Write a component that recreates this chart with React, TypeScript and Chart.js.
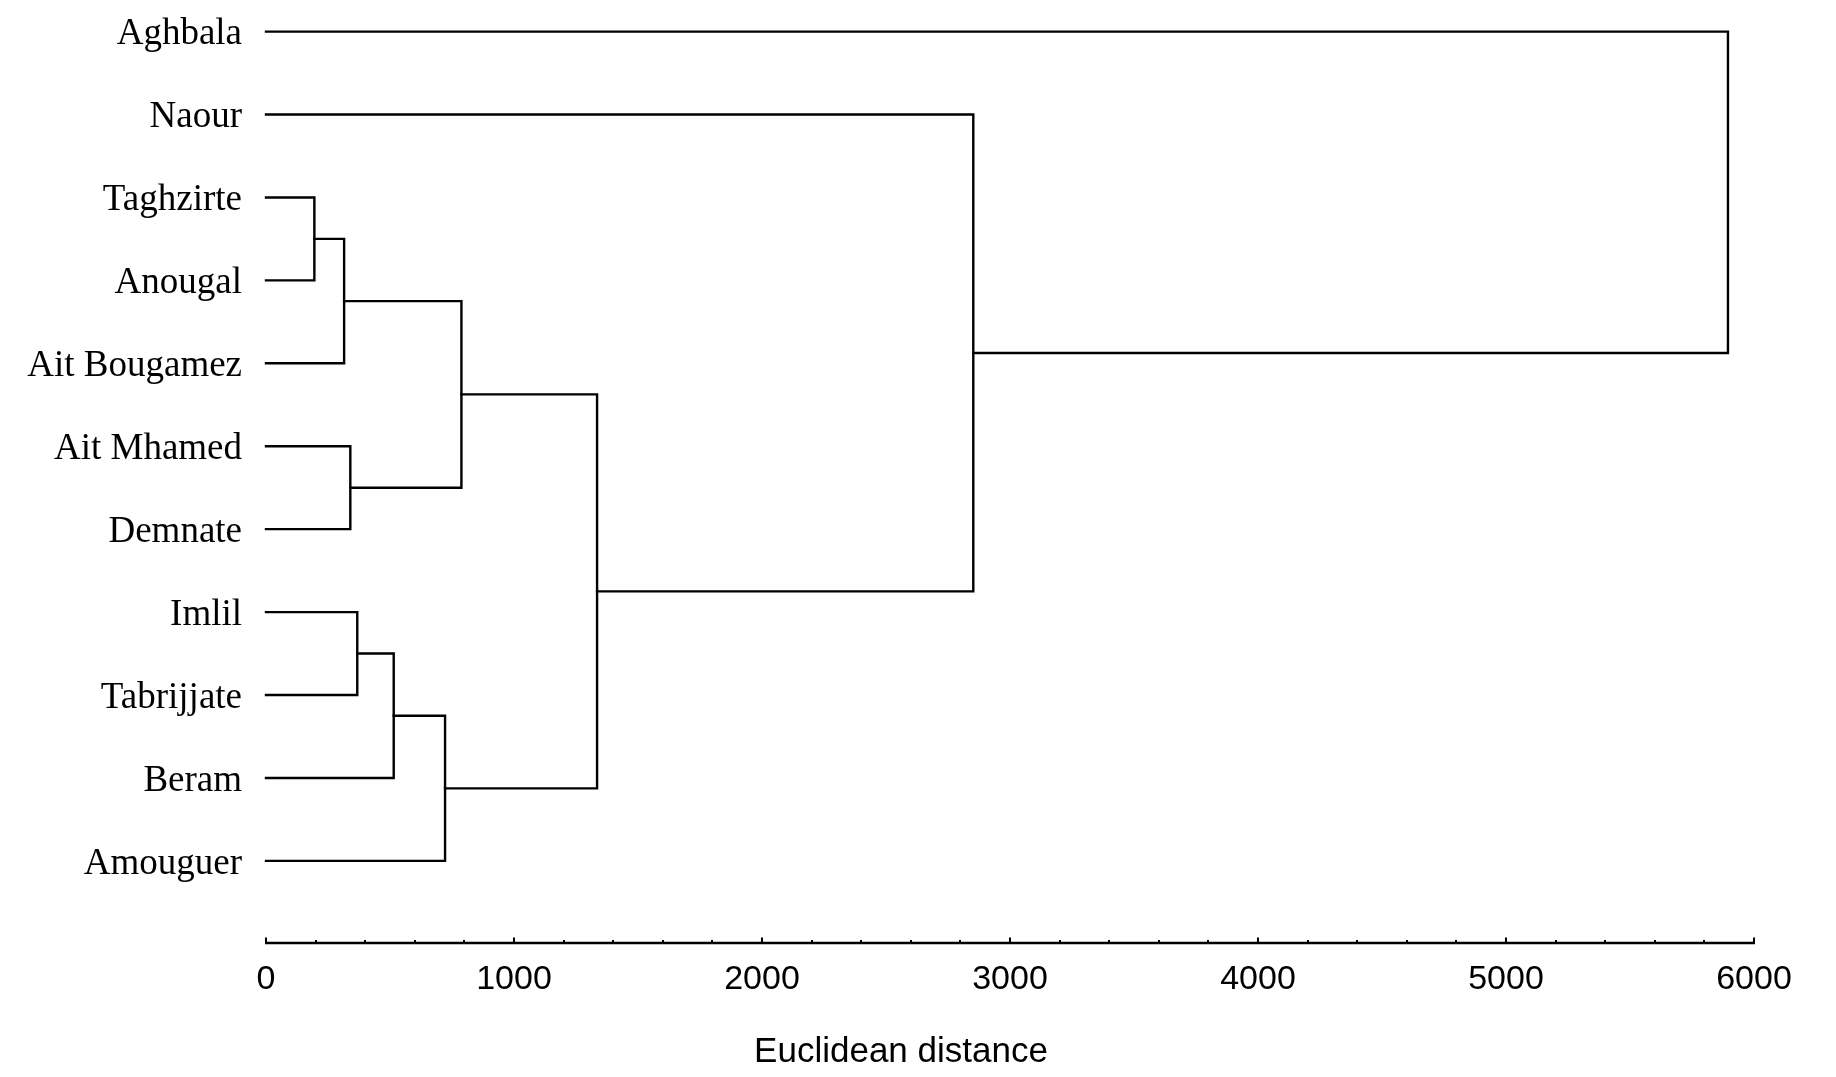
import React, { useEffect, useRef } from 'react';
import { Chart, registerables } from 'chart.js';

Chart.register(...registerables);

// Leaves (top to bottom)
const leafLabels = [
  'Aghbala',
  'Naour',
  'Taghzirte',
  'Anougal',
  'Ait Bougamez',
  'Ait Mhamed',
  'Demnate',
  'Imlil',
  'Tabrijjate',
  'Beram',
  'Amouguer',
];

// Linkage: cluster ids 0..10 are leaves, merge k creates cluster 11 + k
const mergeLeft = [2, 11, 5, 7, 14, 15, 12, 17, 1, 0];
const mergeRight = [3, 4, 6, 8, 9, 10, 13, 16, 18, 19];
const mergeHeight = [195, 315, 340, 368, 515, 722, 788, 1335, 2852, 5895];

const xTickValues = [0, 1000, 2000, 3000, 4000, 5000, 6000];
const xMinorStep = 200;

const SANS = '"Liberation Sans Narrow", "Arial Narrow", "Liberation Sans", Arial, sans-serif';
const SERIF = '"Liberation Serif", "Times New Roman", serif';

function buildDatasets() {
  const ys: number[] = leafLabels.map((_, i) => i);
  const hs: number[] = leafLabels.map(() => 0);
  const datasets: any[] = [];
  mergeHeight.forEach((h, k) => {
    const l = mergeLeft[k];
    const r = mergeRight[k];
    const yl = ys[l];
    const yr = ys[r];
    datasets.push({
      label: `link ${k}`,
      data: [
        { x: hs[l], y: yl },
        { x: h, y: yl },
        { x: h, y: yr },
        { x: hs[r], y: yr },
      ],
      showLine: true,
      borderColor: '#000',
      borderWidth: 2.4,
      pointRadius: 0,
      pointHoverRadius: 0,
      tension: 0,
      fill: false,
      clip: false,
      borderJoinStyle: 'miter',
      borderCapStyle: 'square',
    });
    ys.push((yl + yr) / 2);
    hs.push(h);
  });
  return datasets;
}

const axisPlugin = {
  id: 'upTickAxis',
  afterDraw(chart: any) {
    const { ctx, chartArea, scales } = chart;
    const x = scales.x;
    const y0 = chartArea.bottom;
    const min = xTickValues[0];
    const max = xTickValues[xTickValues.length - 1];
    ctx.save();
    ctx.strokeStyle = '#000';
    ctx.lineWidth = 2.5;
    ctx.beginPath();
    ctx.moveTo(x.getPixelForValue(min) - 1, y0);
    ctx.lineTo(x.getPixelForValue(max) + 1, y0);
    ctx.stroke();
    ctx.lineWidth = 2;
    for (let v = min; v <= max; v += xMinorStep) {
      const px = Math.round(x.getPixelForValue(v));
      const major = xTickValues.includes(v);
      ctx.beginPath();
      ctx.moveTo(px, y0);
      ctx.lineTo(px, y0 - (major ? 5.5 : 3));
      ctx.stroke();
    }
    ctx.restore();
  },
};

const noPadY = (s: any) => {
  s.paddingTop = 0;
  s.paddingBottom = 0;
};

export default function App() {
  const canvasRef = useRef<HTMLCanvasElement | null>(null);

  useEffect(() => {
    const canvas = canvasRef.current;
    if (!canvas) return;
    const chart = new Chart(canvas, {
      type: 'scatter',
      data: { datasets: buildDatasets() },
      options: {
        responsive: false,
        animation: false,
        devicePixelRatio: 1,
        layout: { padding: { left: 0, right: 34, top: 15, bottom: 7 } },
        plugins: {
          legend: { display: false },
          tooltip: { enabled: false },
          title: {
            display: true,
            position: 'bottom',
            text: 'Euclidean distance',
            color: '#000',
            font: { family: SANS, size: 35, weight: 'normal', lineHeight: 1 },
            padding: { top: 0, bottom: 0 },
          },
        },
        scales: {
          x: {
            type: 'linear',
            position: 'bottom',
            min: 0,
            max: 6000,
            grid: { display: false, drawTicks: false },
            border: { display: false },
            ticks: {
              color: '#000',
              font: { family: SANS, size: 34 },
              padding: 16,
              maxRotation: 0,
              autoSkip: false,
              callback: (v: any) => String(v),
            },
            afterBuildTicks: (s: any) => {
              s.ticks = xTickValues.map((v) => ({ value: v }));
            },
            afterFit: (s: any) => {
              s.height = 92;
            },
          },
          y: {
            type: 'linear',
            position: 'left',
            reverse: true,
            min: -0.2,
            max: 10.99,
            grid: { display: false, drawTicks: false },
            border: { display: false },
            ticks: {
              color: '#000',
              font: { family: SERIF, size: 37 },
              padding: 24,
              labelOffset: 3,
              autoSkip: false,
              callback: (v: any) => leafLabels[v] ?? '',
            },
            afterBuildTicks: (s: any) => {
              s.ticks = leafLabels.map((_, i) => ({ value: i }));
            },
            afterFit: (s: any) => {
              s.width = 266;
              noPadY(s);
            },
          },
          spacer: {
            type: 'linear',
            position: 'right',
            display: true,
            grid: { display: false, drawTicks: false },
            border: { display: false },
            ticks: { display: false },
            afterFit: (s: any) => {
              s.width = 48;
              noPadY(s);
            },
          },
        },
      } as any,
      plugins: [axisPlugin],
    });
    return () => chart.destroy();
  }, []);

  return (
    <div style={{ position: 'fixed', left: 0, top: 0, width: 1836, height: 1077, background: '#fff' }}>
      <canvas ref={canvasRef} width={1836} height={1077} style={{ display: 'block', width: 1836, height: 1077 }} />
    </div>
  );
}
